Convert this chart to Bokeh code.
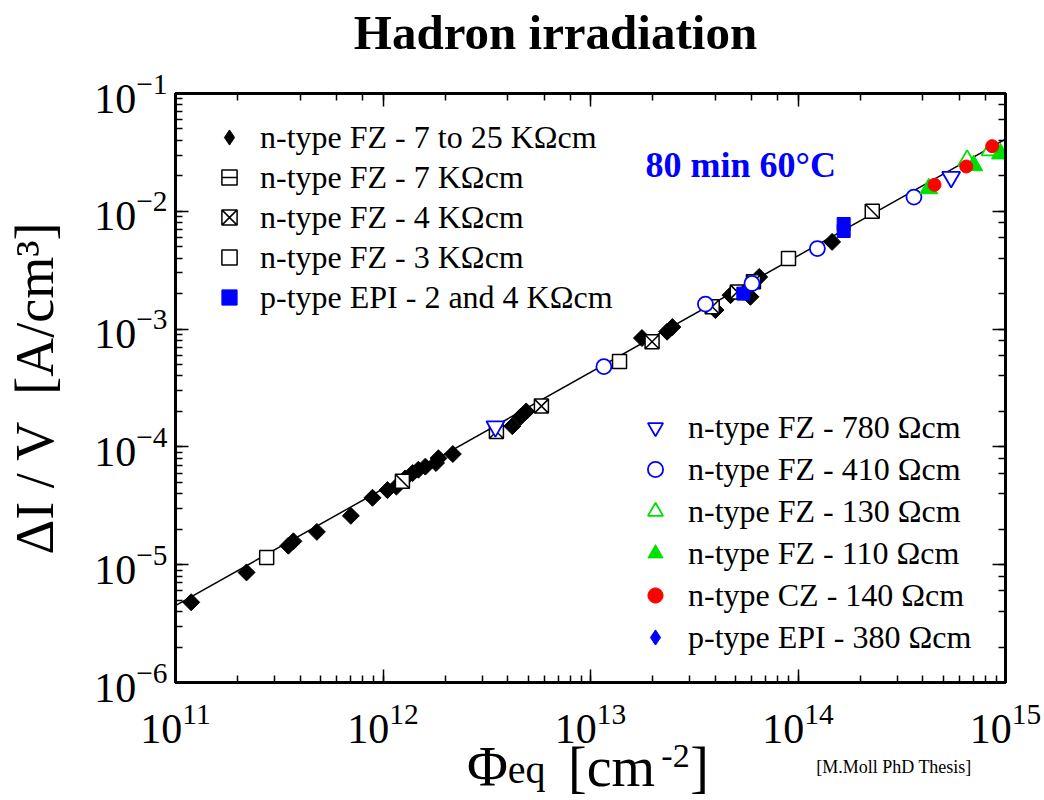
import math
from bokeh.plotting import figure
from bokeh.models import (LogAxis, LogTicker, FixedTicker, Legend, LegendItem, Label,
                          CustomJSTickFormatter, Range1d)
from bokeh.embed import file_html
from bokeh.resources import INLINE

# ---------------- data ----------------
fz_7to25_x = [1.19e11, 2.2e11, 3.5e11, 3.7e11, 4.8e11, 7.0e11, 8.9e11, 1.05e12, 1.16e12,
              1.28e12, 1.39e12, 1.48e12, 1.6e12, 1.8e12, 1.85e12, 2.17e12, 4.2e12, 4.6e12,
              4.9e12, 1.77e13, 2.34e13, 2.48e13, 4.0e13, 4.73e13, 5.9e13, 6.5e13, 1.46e14]
fz_7to25_y = [4.8e-6, 8.6e-6, 1.45e-5, 1.58e-5, 1.9e-5, 2.6e-5, 3.7e-5, 4.3e-5, 4.6e-5,
              5.4e-5, 6.0e-5, 6.4e-5, 6.8e-5, 7.3e-5, 8.0e-5, 8.7e-5, 1.5e-4, 1.8e-4,
              2.0e-4, 8.4e-4, 9.5e-4, 1.04e-3, 1.45e-3, 1.94e-3, 1.88e-3, 2.77e-3, 5.5e-3]
fz_7k_x = [1.24e12, 2.28e14]
fz_7k_y = [5.1e-5, 1.0e-2]
fz_4k_x = [3.52e12, 5.8e12, 1.98e13, 3.86e13, 5.1e13, 6.1e13]
fz_4k_y = [1.35e-4, 2.22e-4, 7.8e-4, 1.55e-3, 2.07e-3, 2.52e-3]
fz_3k_x = [2.75e11, 1.38e13, 9.0e13]
fz_3k_y = [1.15e-5, 5.3e-4, 3.97e-3]
epi_2_4k_x = [5.45e13, 1.66e14, 1.66e14]
epi_2_4k_y = [2.0e-3, 6.8e-3, 7.8e-3]
fz_780_x = [3.48e12, 5.47e14]
fz_780_y = [1.49e-4, 1.95e-2]
fz_410_x = [1.16e13, 3.58e13, 6.0e13, 1.24e14, 3.62e14]
fz_410_y = [4.8e-4, 1.63e-3, 2.44e-3, 4.83e-3, 1.32e-2]
fz_130_x = [6.53e14, 8.47e14]
fz_130_y = [2.7e-2, 3.3e-2]
fz_110_x = [4.27e14, 7.03e14, 9.46e14]
fz_110_y = [1.56e-2, 2.45e-2, 3.08e-2]
cz_140_x = [4.55e14, 6.47e14, 8.63e14]
cz_140_y = [1.68e-2, 2.4e-2, 3.57e-2]
epi_380_x = [float("nan")]   # listed in the legend, no visible point
epi_380_y = [float("nan")]
fit_x = [1e11, 1e15]
fit_y = [4.5e-6, 4.1e-2]

labels_top = ["n-type FZ - 7 to 25 KΩcm", "n-type FZ - 7 KΩcm", "n-type FZ - 4 KΩcm",
              "n-type FZ - 3 KΩcm", "p-type EPI - 2 and 4 KΩcm"]
labels_bottom = ["n-type FZ - 780 Ωcm", "n-type FZ - 410 Ωcm", "n-type FZ - 130 Ωcm",
                 "n-type FZ - 110 Ωcm", "n-type CZ - 140 Ωcm", "p-type EPI - 380 Ωcm"]
title_text = ["Hadron irradiation"]
title_at = [6.78e12]
y_label = "ΔI / V\u00a0 [A/cm³]"
note_text = "80 min 60°C"
# x-axis title pieces (main size, subscript, superscript) and where they sit along x
xl_main = ["Φ", "[cm", "]"]
xl_main_at = [3.19e12, 1.263e13, 3.353e13]
xl_sub = ["eq"]
xl_sub_at = [4.92e12]
xl_sup = ["-2"]
xl_sup_at = [2.568e13]
cite_text = ["[M.Moll PhD Thesis]"]
cite_at = [2.9e14]

FONT = "Liberation Serif"
BLUE = "#0000ff"
GREEN = "#00e000"
RED = "#ff0000"

p = figure(width=1044, height=800, x_axis_type="log", y_axis_type="log",
           x_range=Range1d(1e11, 1e15), y_range=Range1d(1e-6, 1e-1),
           output_backend="svg", toolbar_location=None, title_location=None,
           min_border_left=175, min_border_right=39, min_border_top=93,
           min_border_bottom=117)
p.grid.visible = False
p.outline_line_color = "black"
p.outline_line_width = 3
p.background_fill_color = "white"
p.border_fill_color = "white"


def style(ax):
    ax.axis_line_width = 3
    ax.axis_line_color = "black"
    ax.major_tick_in = 13
    ax.major_tick_out = 0
    ax.minor_tick_in = 7
    ax.minor_tick_out = 0
    ax.major_tick_line_width = 1.5
    ax.minor_tick_line_width = 1.5
    ax.major_label_text_font = FONT
    ax.major_label_text_font_size = "42px"
    ax.major_label_text_color = "black"
    ax.major_label_standoff = 8


for ax in p.xaxis + p.yaxis:
    style(ax)
p.below[0].major_label_standoff = 22

yl = p.left[0]
yl.axis_label = y_label
yl.axis_label_text_font = FONT
yl.axis_label_text_font_size = "54px"
yl.axis_label_text_font_style = "normal"
yl.axis_label_text_color = "black"
yl.axis_label_standoff = 26

for side in ("above", "right"):
    ax = LogAxis(ticker=LogTicker(), formatter=CustomJSTickFormatter(code="return ''"))
    style(ax)
    p.add_layout(ax, side)


def text_axis(texts, where, size, standoff, side="below", style_="normal"):
    ax = LogAxis(ticker=FixedTicker(ticks=where, minor_ticks=[]),
                 formatter=CustomJSTickFormatter(args=dict(t=texts), code="return t[index]"))
    ax.axis_line_color = None
    ax.major_tick_line_color = None
    ax.minor_tick_line_color = None
    ax.major_tick_in = 0
    ax.major_tick_out = 0
    ax.major_label_text_font = FONT
    ax.major_label_text_font_size = size
    ax.major_label_text_font_style = style_
    ax.major_label_text_color = "black"
    ax.major_label_standoff = standoff
    p.add_layout(ax, side)


# title row above the frame
text_axis(title_text, title_at, "49px", 34, side="above", style_="bold")

# stacked label rows below the main axis (negative standoffs pull them up)
text_axis(xl_sup, xl_sup_at, "34px", -1)
text_axis(cite_text, cite_at, "18px", -13)
text_axis(xl_main, xl_main_at, "56px", -44)
text_axis(xl_sub, xl_sub_at, "40px", -54)

# fit line
p.line(fit_x, fit_y, line_color="black", line_width=1.5)

# markers
r_d = p.scatter(fz_7to25_x, fz_7to25_y, marker="square", angle=math.pi / 4, size=12,
                fill_color="black", line_color="black")
r_sq7 = p.scatter(fz_7k_x, fz_7k_y, marker="square", size=14, fill_color="white",
                  line_color="black", line_width=1.5)
r_sl7 = p.scatter(fz_7k_x, fz_7k_y, marker="dash", angle=-math.pi / 4, size=19,
                  line_color="black", line_width=1.5)
r_sq4 = p.scatter(fz_4k_x, fz_4k_y, marker="square_x", size=14, fill_color="white",
                  line_color="black", line_width=1.5)
r_sq3 = p.scatter(fz_3k_x, fz_3k_y, marker="square", size=14, fill_color="white",
                  line_color="black", line_width=1.5)
r_epi = p.scatter(epi_2_4k_x, epi_2_4k_y, marker="square", size=13, fill_color=BLUE,
                  line_color=BLUE)
r_780 = p.scatter(fz_780_x, fz_780_y, marker="inverted_triangle", size=18, fill_color="white",
                  line_color=BLUE, line_width=1.8)
r_410 = p.scatter(fz_410_x, fz_410_y, marker="circle", size=15, fill_color="white",
                  line_color=BLUE, line_width=1.8)
r_130 = p.scatter(fz_130_x, fz_130_y, marker="triangle", size=18, fill_color="white",
                  line_color=GREEN, line_width=1.8)
r_110 = p.scatter(fz_110_x, fz_110_y, marker="triangle", size=18, fill_color=GREEN,
                  line_color=GREEN)
r_cz = p.scatter(cz_140_x, cz_140_y, marker="circle", size=13, fill_color=RED, line_color=RED)
r_e380 = p.scatter(epi_380_x, epi_380_y, marker="diamond", size=16, fill_color=BLUE,
                   line_color=BLUE)
# legend key for the filled diamonds (no points of its own)
r_dkey = p.scatter(epi_380_x, epi_380_y, marker="diamond", size=16, fill_color="black",
                   line_color="black")

leg_top = Legend(items=[
    LegendItem(label=labels_top[0], renderers=[r_dkey]),
    LegendItem(label=labels_top[1], renderers=[r_sq7, r_sl7]),
    LegendItem(label=labels_top[2], renderers=[r_sq4]),
    LegendItem(label=labels_top[3], renderers=[r_sq3]),
    LegendItem(label=labels_top[4], renderers=[r_epi]),
], location=(35, 366))
leg_bot = Legend(items=[
    LegendItem(label=labels_bottom[0], renderers=[r_780]),
    LegendItem(label=labels_bottom[1], renderers=[r_410]),
    LegendItem(label=labels_bottom[2], renderers=[r_130]),
    LegendItem(label=labels_bottom[3], renderers=[r_110]),
    LegendItem(label=labels_bottom[4], renderers=[r_cz]),
    LegendItem(label=labels_bottom[5], renderers=[r_e380]),
], location=(461, 26))
for lg, sp, so in ((leg_top, 2, 12), (leg_bot, 4, 14)):
    lg.label_text_font = FONT
    lg.label_text_font_size = "32px"
    lg.label_text_color = "black"
    lg.glyph_width = 38
    lg.glyph_height = 38
    lg.spacing = sp
    lg.padding = 0
    lg.margin = 0
    lg.label_standoff = so
    lg.border_line_color = None
    lg.background_fill_alpha = 0
    p.add_layout(lg, "center")

# blue annotation inside the frame
p.add_layout(Label(x=470, y=518, x_units="screen", y_units="screen", text=note_text,
                   text_font=FONT, text_font_size="36px", text_font_style="bold",
                   text_color=BLUE, text_baseline="alphabetic"))

open("out.html", "w").write(file_html(p, INLINE))
